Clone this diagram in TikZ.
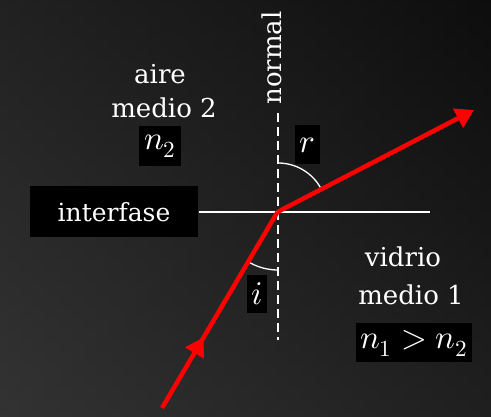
\documentclass[tikz,border=0pt]{standalone}
\usepackage{fontspec}
\usepackage{unicode-math}
\setmainfont{DejaVu Serif}
\setmathfont{Latin Modern Math}
\usetikzlibrary{arrows.meta,decorations.markings}
\begin{document}
\begin{tikzpicture}[x=1pt,y=-1pt,
  lbl/.style={text=white,font=\fontsize{26}{30}\selectfont,align=center,inner sep=2pt},
  mbox/.style={fill=black,text=white,font=\fontsize{33}{36}\selectfont,inner sep=2pt},
  ray/.style={draw=red,line width=4.5pt},
  thinw/.style={draw=white,line width=1.5pt}]
\useasboundingbox (0,0) rectangle (491,417);
\shade[shading angle=45,bottom color=black!80,top color=black!94] (0,0) rectangle (491,417);
\shade[left color=black!80,right color=black!95,opacity=0.5] (0,0) rectangle (491,417);
% geometry
\coordinate (P) at (277.5,212);
\coordinate (A) at (162,408);
\coordinate (B) at (474,110);
\coordinate (NT) at (278,113);
\coordinate (NB) at (278,340);
\coordinate (IL) at (199,212);
\coordinate (IR) at (430,212);
% interface and normal
\draw[thinw] (IL) -- (IR);
\draw[thinw,dash pattern=on 9pt off 5pt] (NT) -- (NB);
% labels
\node[lbl,rotate=90] (normal) at (272,58) {normal};
\node[lbl] (aire) at (160,74) {aire};
\node[lbl] (m2) at (164,108) {medio 2};
\node[mbox,minimum width=42pt,minimum height=40pt] (n2) at (160,146) {$n_2$};
\node[mbox,minimum width=168pt,minimum height=51pt,font=\fontsize{25}{30}\selectfont] (intf) at (114,212) {interfase};
\node[mbox,minimum width=25pt,minimum height=39pt] (r) at (307,145) {$r$};
\node[mbox,minimum width=20pt,minimum height=38pt] (i) at (257,294) {$i$};
\node[lbl] (vid) at (403,257) {vidrio};
\node[lbl] (m1) at (411,295) {medio 1};
\node[mbox,minimum width=116pt,minimum height=39pt] (n12) at (414,343) {$n_1>n_2$};
% angle arcs
\draw[white,line width=1.3pt] (278,163) arc[start angle=-90,end angle=-28,radius=49];
\draw[white,line width=1.3pt] (278,270) arc[start angle=90,end angle=119,radius=58];
% rays
\draw[ray,postaction={decorate},decoration={markings,mark=at position 0.36 with {\arrow[red,scale=1.1]{Triangle}}}] (A) -- (P);
\draw[ray,-{Triangle[scale=1.1]}] (P) -- (B);
\end{tikzpicture}
\end{document}
